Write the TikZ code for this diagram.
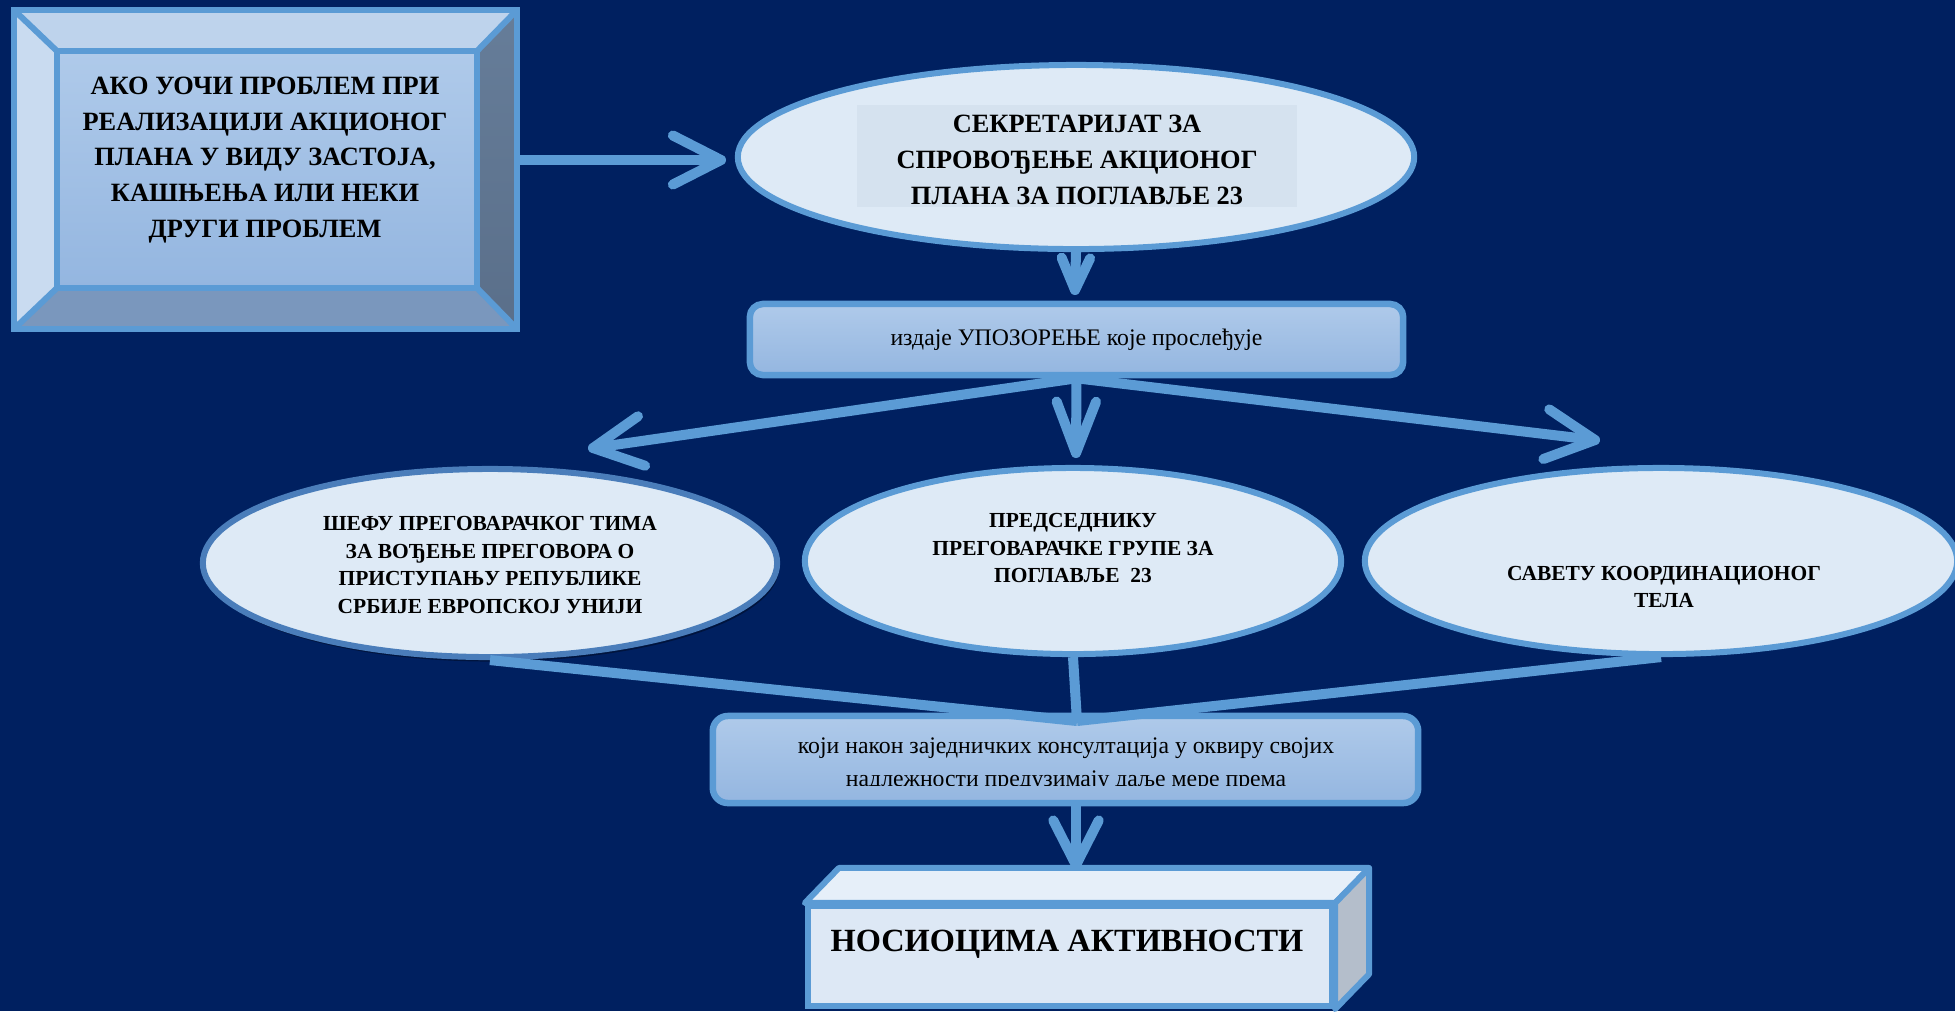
\documentclass[tikz,border=0pt]{standalone}
\usepackage{fontspec}
\setmainfont{Liberation Serif}
\usetikzlibrary{calc,shapes.geometric,shadows}
\definecolor{bgc}{HTML}{002060}
\definecolor{ln}{HTML}{5B9BD5}
\definecolor{lnd}{HTML}{4A7DBA}
\definecolor{ellf}{HTML}{DEEAF6}
\definecolor{txbg}{HTML}{D5E2EF}
\definecolor{facetop}{HTML}{AFCAEA}
\definecolor{facebot}{HTML}{94B6E0}
\definecolor{bvtop}{HTML}{BED3EC}
\definecolor{bvleft}{HTML}{C9DBF0}
\definecolor{bvrtop}{HTML}{667D99}
\definecolor{bvrbot}{HTML}{5A6F8A}
\definecolor{bvbot}{HTML}{7A97BD}
\definecolor{cbfront}{HTML}{DDE8F5}
\definecolor{cbtop}{HTML}{E6EFF9}
\definecolor{cbside}{HTML}{B4BECB}
\pgfdeclarelayer{back}
\pgfsetlayers{back,main}
\newcommand\mychev[4]{\draw[chevst] ($(#1)!#3!#4:(#2)$) -- (#1) -- ($(#1)!#3!-#4:(#2)$);}
\begin{document}
\begin{tikzpicture}[x=0.01cm,y=-0.01cm,
  conn/.style={draw=ln,line width=0.1cm,line cap=round},
  chevst/.style={draw=ln,line width=0.1cm,line cap=round,line join=round},
  lowline/.style={draw=ln,line width=0.1cm},
  ell/.style={ellipse,draw=ln,line width=0.06cm,fill=ellf,inner sep=0pt},
  rbox/.style={rectangle,rounded corners=0.13cm,draw=ln,line width=0.065cm,top color=facetop,bottom color=facebot,inner sep=0pt},
  frame/.style={draw=ln,line width=0.06cm,line join=miter},
  tbig/.style={font=\bfseries\fontsize{7.5pt}{10.2pt}\selectfont,align=center,inner sep=0pt},
  tell/.style={font=\bfseries\fontsize{6.1pt}{7.8pt}\selectfont,align=center,inner sep=0pt},
  treg/.style={font=\fontsize{6.75pt}{8.5pt}\selectfont,align=center,inner sep=0pt},
  tlow/.style={font=\fontsize{6.75pt}{9.4pt}\selectfont,align=center,inner sep=0pt},
  thuge/.style={font=\bfseries\fontsize{9.2pt}{11pt}\selectfont,align=center,inner sep=0pt},
]
\useasboundingbox (0,0) rectangle (1955,1011);
\begin{pgfonlayer}{back}
\fill[bgc] (0,0) rectangle (1955,1011);
\end{pgfonlayer}

% ---- box 1 (bevel)
\node[minimum width=5.01cm,minimum height=3.17cm,inner sep=0pt] (b1) at (265.5,169.5) {};
\node[minimum width=4.18cm,minimum height=2.35cm,inner sep=0pt,top color=facetop,bottom color=facebot] (b1i) at (267,169.5) {};
\fill[bvtop] (b1.north west) -- (b1.north east) -- (b1i.north east) -- (b1i.north west) -- cycle;
\fill[bvleft] (b1.north west) -- (b1i.north west) -- (b1i.south west) -- (b1.south west) -- cycle;
\shade[top color=bvrtop,bottom color=bvrbot] (b1.north east) -- (b1.south east) -- (b1i.south east) -- (b1i.north east) -- cycle;
\fill[bvbot] (b1.south west) -- (b1i.south west) -- (b1i.south east) -- (b1.south east) -- cycle;
\draw[frame] (b1.north west) rectangle (b1.south east);
\draw[frame] (b1i.north west) rectangle (b1i.south east);
\draw[frame] (b1.north west) -- (b1i.north west) (b1.north east) -- (b1i.north east)
             (b1.south west) -- (b1i.south west) (b1.south east) -- (b1i.south east);
\node[tbig] (b1t) at (265,160) {АКО УОЧИ ПРОБЛЕМ ПРИ\\РЕАЛИЗАЦИЈИ АКЦИОНОГ\\ПЛАНА У ВИДУ ЗАСТОЈА,\\КАШЊЕЊА ИЛИ НЕКИ\\ДРУГИ ПРОБЛЕМ};

% ---- ellipse 1
\node[ell,minimum width=6.76cm,minimum height=1.84cm] (e1) at (1076,157) {};
\node[fill=txbg,minimum width=4.4cm,minimum height=1.02cm,inner sep=0pt] (e1bg) at (1077,156) {};
\node[tbig] (e1t) at (1077,160) {СЕКРЕТАРИЈАТ ЗА\\СПРОВОЂЕЊЕ АКЦИОНОГ\\ПЛАНА ЗА ПОГЛАВЉЕ 23};

% ---- box 2
\node[rbox,treg,minimum width=6.53cm,minimum height=0.71cm] (b2) at (1076.5,339.5) {издаје УПОЗОРЕЊЕ које прослеђује};

% ---- three ellipses
\node[ell,draw=lnd,minimum width=5.74cm,minimum height=1.88cm,
      drop shadow={shadow xshift=0.02cm,shadow yshift=-0.045cm,opacity=0.35,fill=black}] (eL) at (490,563) {};
\node[tell] (eLt) at (490,565) {ШЕФУ ПРЕГОВАРАЧКОГ ТИМА\\ЗА ВОЂЕЊЕ ПРЕГОВОРА О\\ПРИСТУПАЊУ РЕПУБЛИКЕ\\СРБИЈЕ ЕВРОПСКОЈ УНИЈИ};
\node[ell,minimum width=5.36cm,minimum height=1.86cm] (eM) at (1073,561) {};
\node[tell] (eMt) at (1073,548) {ПРЕДСЕДНИКУ\\ПРЕГОВАРАЧКЕ ГРУПЕ ЗА\\ПОГЛАВЉЕ\ \ 23};
\node[ell,minimum width=5.92cm,minimum height=1.86cm] (eR) at (1661,561) {};
\node[tell] (eRt) at (1664,587) {САВЕТУ КООРДИНАЦИОНОГ\\ТЕЛА};

% ---- box 3
\node[rbox,rounded corners=0.15cm,minimum width=7.05cm,minimum height=0.87cm] (b3) at (1065.5,759.5) {};
\begin{scope}
\clip (700,718) rectangle (1430,785);
\node[tlow] (b3t) at (1066,765) {који након заједничких консултација у оквиру својих\\надлежности предузимају даље мере према};
\end{scope}
\coordinate (b3c) at (1077,721);
\draw[lowline] (eL.south) -- (b3c);
\draw[lowline] (eM.south) -- (b3c);
\draw[lowline] (eR.south) -- (b3c);

% ---- box 4 (cuboid)
\node[minimum width=5.24cm,minimum height=1.0cm,inner sep=0pt,fill=cbfront,draw=ln,line width=0.06cm] (b4) at (1070,956) {};
\filldraw[fill=cbtop,draw=ln,line width=0.06cm,line join=round] (b4.north west) -- ++(34,-35) -- ($(b4.north east)+(34,-35)$) -- (b4.north east) -- cycle;
\filldraw[fill=cbside,draw=ln,line width=0.06cm,line join=round] (b4.north east) -- ++(34,-35) -- ($(b4.south east)+(34,-35)$) -- (b4.south east) -- cycle;
\node[thuge] (b4t) at (1067,944) {НОСИОЦИМА АКТИВНОСТИ};

% ---- connectors (behind shapes)
\coordinate (a1t) at (721,160);
\coordinate (a1s) at (b1.east |- a1t);
\coordinate (a2t) at (1075,290);
\coordinate (fl) at (593,448);
\coordinate (fm) at (1076,453);
\coordinate (fr) at (1595,440);
\coordinate (a4t) at (1076,865);
\coordinate (a4s) at (a4t |- b3.south);
\begin{pgfonlayer}{back}
\draw[conn] (a1s) -- (a1t); \mychev{a1t}{a1s}{0.54cm}{27}
\draw[conn] (e1.south) -- (a2t); \mychev{a2t}{e1.south}{0.35cm}{24}
\draw[conn] (b2.south) -- (fl); \mychev{fl}{b2.south}{0.55cm}{27}
\draw[conn] (b2.south) -- (fm); \mychev{fm}{b2.south}{0.55cm}{21}
\draw[conn] (b2.south) -- (fr); \mychev{fr}{b2.south}{0.55cm}{27}
\draw[conn] (a4s) -- (a4t); \mychev{a4t}{a4s}{0.5cm}{27}
\end{pgfonlayer}
\end{tikzpicture}
\end{document}
